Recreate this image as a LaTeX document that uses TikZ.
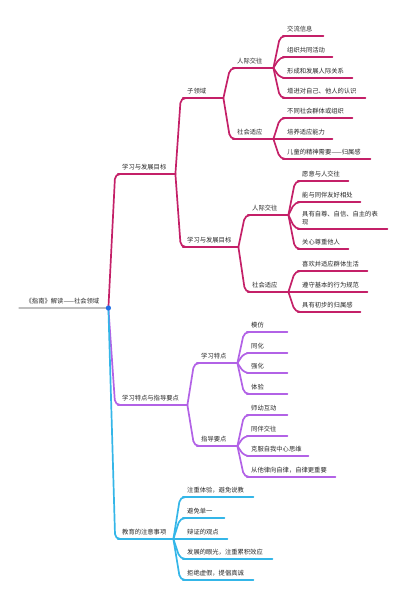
\documentclass[tikz,border=0pt]{standalone}
\usepackage{fontspec}
\newfontfamily\cjk{Noto Sans CJK SC}
\usetikzlibrary{calc}
\definecolor{crim}{RGB}{196,32,104}
\definecolor{violetb}{RGB}{178,98,230}
\definecolor{skyb}{RGB}{52,182,232}
\definecolor{rootgray}{RGB}{190,190,190}
\definecolor{dotblue}{RGB}{30,110,230}
\definecolor{txt}{RGB}{40,40,40}
\begin{document}
\begin{tikzpicture}[x=1pt,y=-1pt]
\tikzset{
  topic/.style={anchor=south west, inner xsep=4pt, inner ysep=3.8pt, text height=5.2pt, text depth=0.6pt,
    text width=#1, align=left, text=txt, font=\cjk\fontsize{6.3}{8}\selectfont},
  ul/.style={append after command={\pgfextra{\let\mainnode=\tikzlastnode}
    (\mainnode.south west) edge[line width=1.7pt, line cap=round, #1] (\mainnode.south east)}},
  conn/.style={line width=1.7pt, line cap=round},
  link/.style={rounded corners=5pt,
    to path={let \p1=(\tikztostart), \p2=(\tikztotarget) in -- ({\x1+0.7*(\x2-\x1)},\y2) -- (\tikztotarget)}}
}
\useasboundingbox (0,0) rectangle (406,600);

% root
\node[topic=76pt, inner xsep=6.5pt, ul={rootgray,line width=1.3pt}] (root) at (19,308) {《指南》解读——社会领域};

% branch 1
\node[topic=49pt, ul=crim] (a) at (118,174) {学习与发展目标};
\node[topic=32pt, ul=crim] (a1) at (183,98) {子领域};
\node[topic=47pt, ul=crim] (a2) at (183,247) {学习与发展目标};
\node[topic=32pt, ul=crim] (a11) at (233,68) {人际交往};
\node[topic=32pt, ul=crim] (a12) at (233,139) {社会适应};
\node[topic=32pt, ul=crim] (a21) at (248,215) {人际交往};
\node[topic=32pt, ul=crim] (a22) at (248,292) {社会适应};

\node[topic=32pt, ul=crim] (a111) at (283,36) {交流信息};
\node[topic=41pt, ul=crim] (a112) at (283,57) {组织共同活动};
\node[topic=61pt, ul=crim] (a113) at (283,78) {形成和发展人际关系};
\node[topic=74pt, ul=crim] (a114) at (283,98) {增进对自己、他人的认识};

\node[topic=61pt, ul=crim] (a121) at (283,118) {不同社会群体或组织};
\node[topic=41pt, ul=crim] (a122) at (283,139) {培养适应能力};
\node[topic=79pt, ul=crim] (a123) at (283,159) {儿童的精神需要——归属感};

\node[topic=42pt, ul=crim] (a211) at (298,181) {愿意与人交往};
\node[topic=54pt, ul=crim] (a212) at (298,202) {能与同伴友好相处};
\node[topic=81pt, text depth=8.6pt, ul=crim] (a213) at (298,229) {具有自尊、自信、自主的表\\现};
\node[topic=42pt, ul=crim] (a214) at (298,249) {关心尊重他人};

\node[topic=61pt, ul=crim] (a221) at (298,271) {喜欢并适应群体生活};
\node[topic=61pt, ul=crim] (a222) at (298,292) {遵守基本的行为规范};
\node[topic=54pt, ul=crim] (a223) at (298,312) {具有初步的归属感};

% branch 2
\node[topic=61pt, ul=violetb] (b) at (118,405) {学习特点与指导要点};
\node[topic=32pt, ul=violetb] (b1) at (197,363) {学习特点};
\node[topic=32pt, ul=violetb] (b2) at (197,446) {指导要点};

\node[topic=32pt, ul=violetb] (b11) at (247,332) {模仿};
\node[topic=32pt, ul=violetb] (b12) at (247,353) {同化};
\node[topic=32pt, ul=violetb] (b13) at (247,373) {强化};
\node[topic=32pt, ul=violetb] (b14) at (247,394) {体验};

\node[topic=32pt, ul=violetb] (b21) at (247,415) {师幼互动};
\node[topic=32pt, ul=violetb] (b22) at (247,436) {同伴交往};
\node[topic=53pt, ul=violetb] (b23) at (247,456) {克服自我中心思维};
\node[topic=80pt, ul=violetb] (b24) at (247,477) {从他律向自律，自律更重要};

% branch 3
\node[topic=47pt, ul=skyb] (c) at (118,539) {教育的注意事项};
\node[topic=62pt, ul=skyb] (c1) at (183,497) {注重体验，避免说教};
\node[topic=33pt, ul=skyb] (c2) at (183,518) {避免单一};
\node[topic=36pt, ul=skyb] (c3) at (183,539) {辩证的观点};
\node[topic=81pt, ul=skyb] (c4) at (183,559) {发展的眼光，注重累积效应};
\node[topic=62pt, ul=skyb] (c5) at (183,580) {拒绝虚假，提倡真诚};

% connectors
\draw[crim, conn] (root.south east) to[link] (a.south west);
\foreach \k in {a1,a2} \draw[crim, conn] (a.south east) to[link] (\k.south west);
\foreach \k in {a11,a12} \draw[crim, conn] (a1.south east) to[link] (\k.south west);
\foreach \k in {a21,a22} \draw[crim, conn] (a2.south east) to[link] (\k.south west);
\foreach \k in {a111,a112,a113,a114} \draw[crim, conn] (a11.south east) to[link] (\k.south west);
\foreach \k in {a121,a122,a123} \draw[crim, conn] (a12.south east) to[link] (\k.south west);
\foreach \k in {a211,a212,a213,a214} \draw[crim, conn] (a21.south east) to[link] (\k.south west);
\foreach \k in {a221,a222,a223} \draw[crim, conn] (a22.south east) to[link] (\k.south west);

\draw[violetb, conn] (root.south east) to[link] (b.south west);
\foreach \k in {b1,b2} \draw[violetb, conn] (b.south east) to[link] (\k.south west);
\foreach \k in {b11,b12,b13,b14} \draw[violetb, conn] (b1.south east) to[link] (\k.south west);
\foreach \k in {b21,b22,b23,b24} \draw[violetb, conn] (b2.south east) to[link] (\k.south west);

\draw[skyb, conn] (root.south east) to[link] (c.south west);
\foreach \k in {c1,c2,c3,c4,c5} \draw[skyb, conn] (c.south east) to[link] (\k.south west);

\fill[dotblue] (root.south east) circle (2.6pt);
\end{tikzpicture}
\end{document}
